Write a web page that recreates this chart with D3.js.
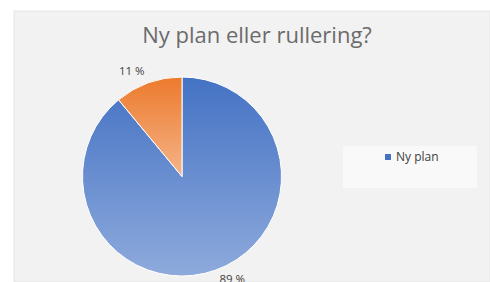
<!DOCTYPE html>
<html>
<head>
<meta charset="utf-8">
<script src="https://cdn.jsdelivr.net/npm/d3@7"></script>
<style>
  body { margin: 0; background: #fff; }
  svg { display: block; font-family: "Open Sans", "Liberation Sans", sans-serif; }
</style>
</head>
<body>
<div id="chart"></div>
<script>
// Data
const categories = ['Ny plan', 'Rullering'];
const values = [89, 11];
const labels = ['89 %', '11 %'];
const legendItems = ['Ny plan'];
const title = 'Ny plan eller rullering?';

// Dimensions
const width = 490;
const height = 282;
const cx = 182, cy = 176.5, radius = 99.5;

const svg = d3.select('#chart')
    .append('svg')
    .attr('width', width)
    .attr('height', height);

// Gradients per slice (top dark, bottom light)
const defs = svg.append('defs');
const gradColors = [['#4472c4', '#8eaadc'], ['#ec7a2c', '#f5b489']];
gradColors.forEach((c, i) => {
    const g = defs.append('linearGradient')
        .attr('id', `grad${i}`)
        .attr('x1', 0).attr('y1', 0)
        .attr('x2', 0).attr('y2', 1);
    g.append('stop').attr('offset', '0%').attr('stop-color', c[0]);
    g.append('stop').attr('offset', '100%').attr('stop-color', c[1]);
});

// Chart area background
svg.append('rect')
    .attr('x', 14).attr('y', 11)
    .attr('width', width - 14).attr('height', height - 11)
    .attr('fill', '#f2f2f2')
    .attr('stroke', '#e6e6e6');

// Title
svg.append('text')
    .attr('x', 257).attr('y', 43)
    .attr('text-anchor', 'middle')
    .attr('font-size', 22)
    .attr('fill', '#6b6b6b')
    .text(title);

// Pie
const pie = d3.pie().sort(null).value(d => d);
const arc = d3.arc().innerRadius(0).outerRadius(radius);
const arcs = pie(values);

const g = svg.append('g').attr('transform', `translate(${cx},${cy})`);

g.selectAll('.slice')
    .data(arcs)
    .join('path')
    .attr('class', 'slice')
    .attr('d', arc)
    .attr('fill', (d, i) => `url(#grad${i})`)
    .attr('stroke', '#fff')
    .attr('stroke-width', 1);

// Data labels outside the pie
const labelArc = d3.arc().innerRadius(radius + 11).outerRadius(radius + 11);
g.selectAll('.lbl')
    .data(arcs)
    .join('text')
    .attr('class', 'lbl')
    .attr('transform', d => {
        const [x, y] = labelArc.centroid(d);
        return `translate(${x},${y})`;
    })
    .attr('text-anchor', d => ((d.startAngle + d.endAngle) / 2 < Math.PI ? 'start' : 'end'))
    .attr('dy', '0.2em')
    .attr('font-size', 11.5)
    .attr('fill', '#404040')
    .text((d, i) => labels[i]);

// Legend
svg.append('rect')
    .attr('x', 343).attr('y', 146)
    .attr('width', 134).attr('height', 42)
    .attr('fill', '#f9f9f9');

const legend = svg.selectAll('.legend')
    .data(legendItems)
    .join('g')
    .attr('class', 'legend')
    .attr('transform', (d, i) => `translate(385,${157 + i * 16})`);

legend.append('rect')
    .attr('x', 0).attr('y', -3)
    .attr('width', 6).attr('height', 6)
    .attr('fill', (d, i) => gradColors[i][0]);

legend.append('text')
    .attr('x', 11).attr('y', 0)
    .attr('dy', '0.32em')
    .attr('font-size', 12)
    .attr('fill', '#404040')
    .text(d => d);
</script>
</body>
</html>
